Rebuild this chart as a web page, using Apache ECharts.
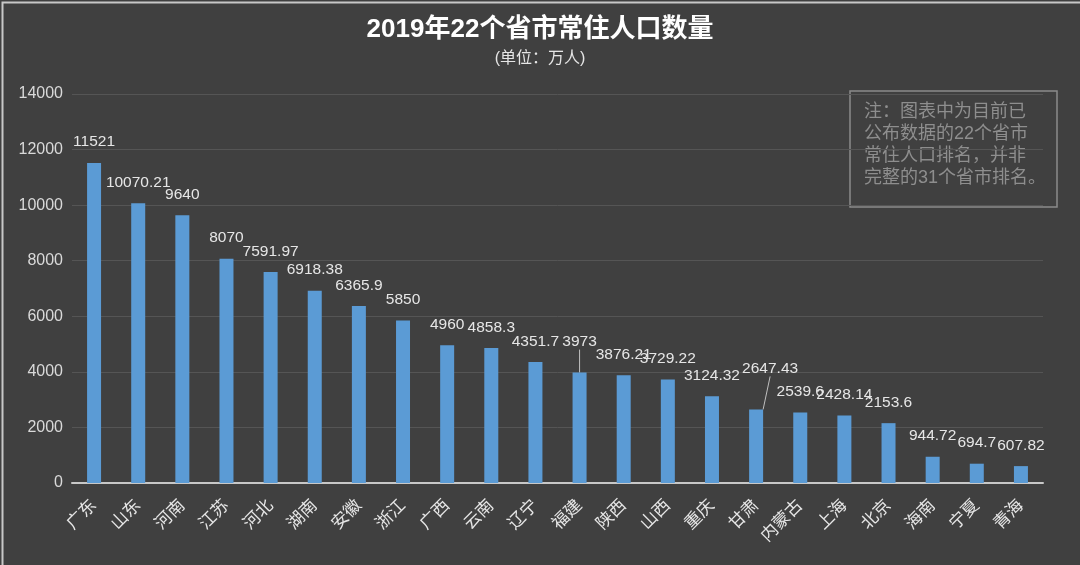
<!DOCTYPE html>
<html>
<head>
<meta charset="utf-8">
<script src="https://cdn.jsdelivr.net/npm/echarts@6/dist/echarts.min.js"></script>
<style>
html,body{margin:0;padding:0;background:#404040;}
#chart{width:1080px;height:565px;}
</style>
</head>
<body>
<div id="chart"></div>
<script>
var categories = ['广东','山东','河南','江苏','河北','湖南','安徽','浙江','广西','云南','辽宁','福建','陕西','山西','重庆','甘肃','内蒙古','上海','北京','海南','宁夏','青海'];
var population = [11521, 10070.21, 9640, 8070, 7591.97, 6918.38, 6365.9, 5850, 4960, 4858.3, 4351.7, 3973, 3876.21, 3729.22, 3124.32, 2647.43, 2539.6, 2428.14, 2153.6, 944.72, 694.7, 607.82];
var yTicks = [0, 2000, 4000, 6000, 8000, 10000, 12000, 14000];
var titleText = '2019年22个省市常住人口数量';
var subtitleText = '(单位：万人)';
var noteLines = ['注：图表中为目前已', '公布数据的22个省市', '常住人口排名，并非', '完整的31个省市排名。'];

var font = '"Liberation Sans", "Noto Sans CJK SC", sans-serif';
var chart = echarts.init(document.getElementById('chart'), null, {renderer: 'canvas'});

var seriesData = population.map(function (v, i) {
  var item = {value: v};
  if (i === 11 || i === 15) {
    item.labelLine = {show: true, lineStyle: {color: '#bfbfbf', width: 1}};
  }
  return item;
});

chart.setOption({
  backgroundColor: '#404040',
  animation: false,
  title: [{
    text: titleText,
    left: 'center',
    top: 12,
    textStyle: {color: '#ffffff', fontSize: 26, fontWeight: 'bold', fontFamily: font}
  }, {
    text: subtitleText,
    left: 'center',
    top: 46,
    textStyle: {color: '#e6e6e6', fontSize: 16, fontWeight: 'normal', fontFamily: font}
  }],
  grid: {left: 72, right: 37, top: 94, bottom: 82, containLabel: false},
  xAxis: {
    type: 'category',
    data: categories,
    axisLine: {show: true, lineStyle: {color: '#c8c8c8', width: 2}},
    axisTick: {show: false},
    axisLabel: {
      rotate: 45, color: '#e6e6e6', fontSize: 17, fontFamily: font, margin: 20, interval: 0
    }
  },
  yAxis: {
    type: 'value',
    min: yTicks[0],
    max: yTicks[yTicks.length - 1],
    interval: 2000,
    axisLine: {show: false},
    axisTick: {show: false},
    splitLine: {lineStyle: {color: '#555555', width: 1}},
    axisLabel: {
      color: '#d9d9d9', fontSize: 16, fontFamily: font, margin: 9,
      formatter: function (v) { return String(v); }
    }
  },
  series: [{
    type: 'bar',
    data: seriesData,
    barWidth: 14,
    itemStyle: {color: '#5b9bd5'},
    label: {
      show: true,
      position: 'top',
      distance: 13,
      color: '#e6e6e6',
      fontSize: 15.5,
      fontFamily: font
    },
    labelLayout: function (p) {
      if (p.dataIndex === 11) return {dy: -10};
      if (p.dataIndex === 15) return {dx: 14, dy: -20};
      return {};
    }
  }],
  graphic: [{
    type: 'rect',
    left: 0, top: 0,
    shape: {x: 0, y: 0, width: 1079, height: 564},
    style: {fill: 'none', stroke: '#c8c8c8', lineWidth: 2},
    silent: true
  }, {
    type: 'rect',
    shape: {x: 850, y: 91, width: 207, height: 116},
    style: {fill: 'none', stroke: '#8a8a8a', lineWidth: 1.5},
    silent: true
  }, {
    type: 'text',
    x: 864, y: 101,
    style: {
      text: noteLines.join('\n'),
      fill: '#8e8e8e',
      font: '18px ' + font,
      lineHeight: 22
    },
    silent: true
  }]
});
</script>
</body>
</html>
